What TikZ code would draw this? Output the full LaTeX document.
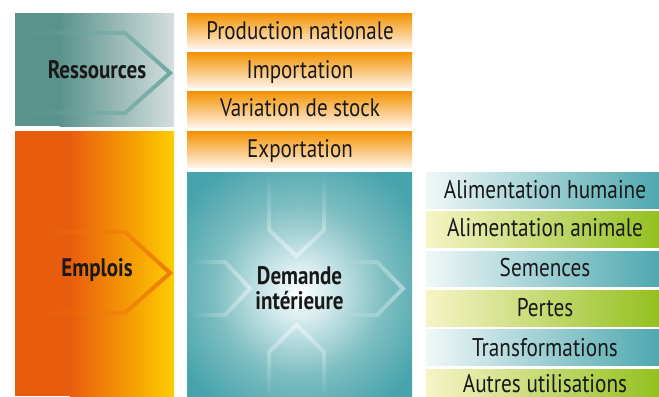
\documentclass[tikz,border=0pt]{standalone}
\usepackage{fontspec}
\setmainfont{PT Sans}[FakeStretch=0.83]
\usetikzlibrary{fadings}
\definecolor{resL}{HTML}{5A938C}
\definecolor{resM}{HTML}{86AFA9}
\definecolor{resR}{HTML}{D5DEDE}
\definecolor{resLine}{HTML}{6BA9A1}
\definecolor{empL}{HTML}{E85C0D}
\definecolor{empM}{HTML}{F39200}
\definecolor{empR}{HTML}{FFCC00}
\definecolor{empLine}{HTML}{EE7A0C}
\definecolor{orT}{HTML}{F39200}
\definecolor{orM}{HTML}{F7AE5C}
\definecolor{orB}{HTML}{FFF1E4}
\definecolor{bluL}{HTML}{F0F7F7}
\definecolor{bluM}{HTML}{A8D2D5}
\definecolor{bluR}{HTML}{4DA8AF}
\definecolor{grL}{HTML}{F6F4C6}
\definecolor{grM}{HTML}{CADB6C}
\definecolor{grR}{HTML}{93C01F}
\definecolor{demO}{HTML}{48A4AC}
\definecolor{demA}{HTML}{7EBEC2}
\definecolor{demB}{HTML}{D8ECEE}
\pgfdeclareradialshading{demshade}{\pgfpoint{0bp}{-2bp}}{color(0bp)=(white); color(6bp)=(demB); color(19bp)=(demA); color(31bp)=(demO); color(50bp)=(demO)}
\tikzfading[name=fadeleft, left color=transparent!100, middle color=transparent!0, right color=transparent!0]
\tikzfading[name=fadetop, top color=transparent!100, middle color=transparent!0, bottom color=transparent!0]
\tikzfading[name=fadebottom, top color=transparent!0, middle color=transparent!0, bottom color=transparent!100]
\tikzset{
  lab/.style={font=\fontsize{19}{22}\selectfont, anchor=base, inner sep=0pt, text=black!90},
  blab/.style={font=\fontsize{19}{22}\bfseries\selectfont, anchor=base, inner sep=0pt, text=black!90},
  rlab/.style={font=\fontsize{19.2}{22}\selectfont, anchor=base, inner sep=0pt, text=black!90},
  orbox/.style={top color=orT, middle color=orM, bottom color=orB},
  blubox/.style={left color=bluL, middle color=bluM, right color=bluR},
  grbox/.style={left color=grL, middle color=grM, right color=grR},
  chev/.style={line width=3pt, line join=miter},
  wchev/.style={chev, draw=white, draw opacity=0.45}
}
\begin{document}
\begin{tikzpicture}[x=0.75pt,y=-0.75pt]
\useasboundingbox (0,0) rectangle (659,396);
\clip (0,0) rectangle (659,396);
\fill[white] (0,0) rectangle (659,396);
% Ressources block
\fill[resL] (15,13) rectangle (60,126);
\shade[left color=resL, middle color=resM, right color=resR] (59.5,13) rectangle (174,126);
\draw[chev, draw=resLine, path fading=fadeleft] (20,33) -- (125,33) -- (170,73) -- (125,113) -- (20,113);
\node[blab] (ress) at (97,78) {Ressources};
% Emplois block
\fill[empL] (15,131) rectangle (70,396);
\shade[left color=empL, middle color=empM, right color=empR] (69.5,131) rectangle (174,396);
\draw[chev, draw=empLine, path fading=fadeleft] (35,232) -- (125,232) -- (170,273) -- (125,313) -- (35,313);
\node[blab] (empl) at (97,276) {Emplois};
% orange boxes
\shade[orbox] (187,13) rectangle (412,48);
\shade[orbox] (187,52) rectangle (412,87);
\shade[orbox] (187,91) rectangle (412,127);
\shade[orbox] (187,131) rectangle (412,167);
\node[lab] (prod) at (300,39.3) {Production nationale};
\node[lab] (impo) at (300,78.3) {Importation};
\node[lab] (vari) at (300,116.7) {Variation de stock};
\node[lab] (expo) at (300,157.3) {Exportation};
% Demande interieure
\path[shading=demshade] (187,172) rectangle (412,397);
\draw[wchev, path fading=fadetop] (269,176) -- (269,230) -- (296.5,256) -- (324,230) -- (324,176);
\draw[wchev, path fading=fadebottom] (269,396) -- (269,352) -- (296.5,325) -- (324,352) -- (324,396);
\draw[wchev, path fading=fadeleft] (192,262) -- (225,262) -- (250,288.5) -- (225,315) -- (192,315);
\draw[wchev, path fading=fadeleft] (345,262) -- (377,262) -- (403,288.5) -- (377,315) -- (345,315);
\node[blab] (dem1) at (299.5,284) {Demande};
\node[blab] (dem2) at (299.5,309) {intérieure};
% right boxes
\shade[blubox] (426,172) rectangle (660,208);
\shade[grbox] (426,211) rectangle (660,247);
\shade[blubox] (426,251) rectangle (660,286);
\shade[grbox] (426,290) rectangle (660,326);
\shade[blubox] (426,329) rectangle (660,365);
\shade[grbox] (426,369) rectangle (660,405);
\node[rlab] (alh) at (545,198.3) {Alimentation humaine};
\node[rlab] (ala) at (545,236.7) {Alimentation animale};
\node[rlab] (sem) at (545,276.7) {Semences};
\node[rlab] (per) at (545,316) {Pertes};
\node[rlab] (tra) at (545,356) {Transformations};
\node[rlab] (aut) at (545,392) {Autres utilisations};
\end{tikzpicture}
\end{document}
